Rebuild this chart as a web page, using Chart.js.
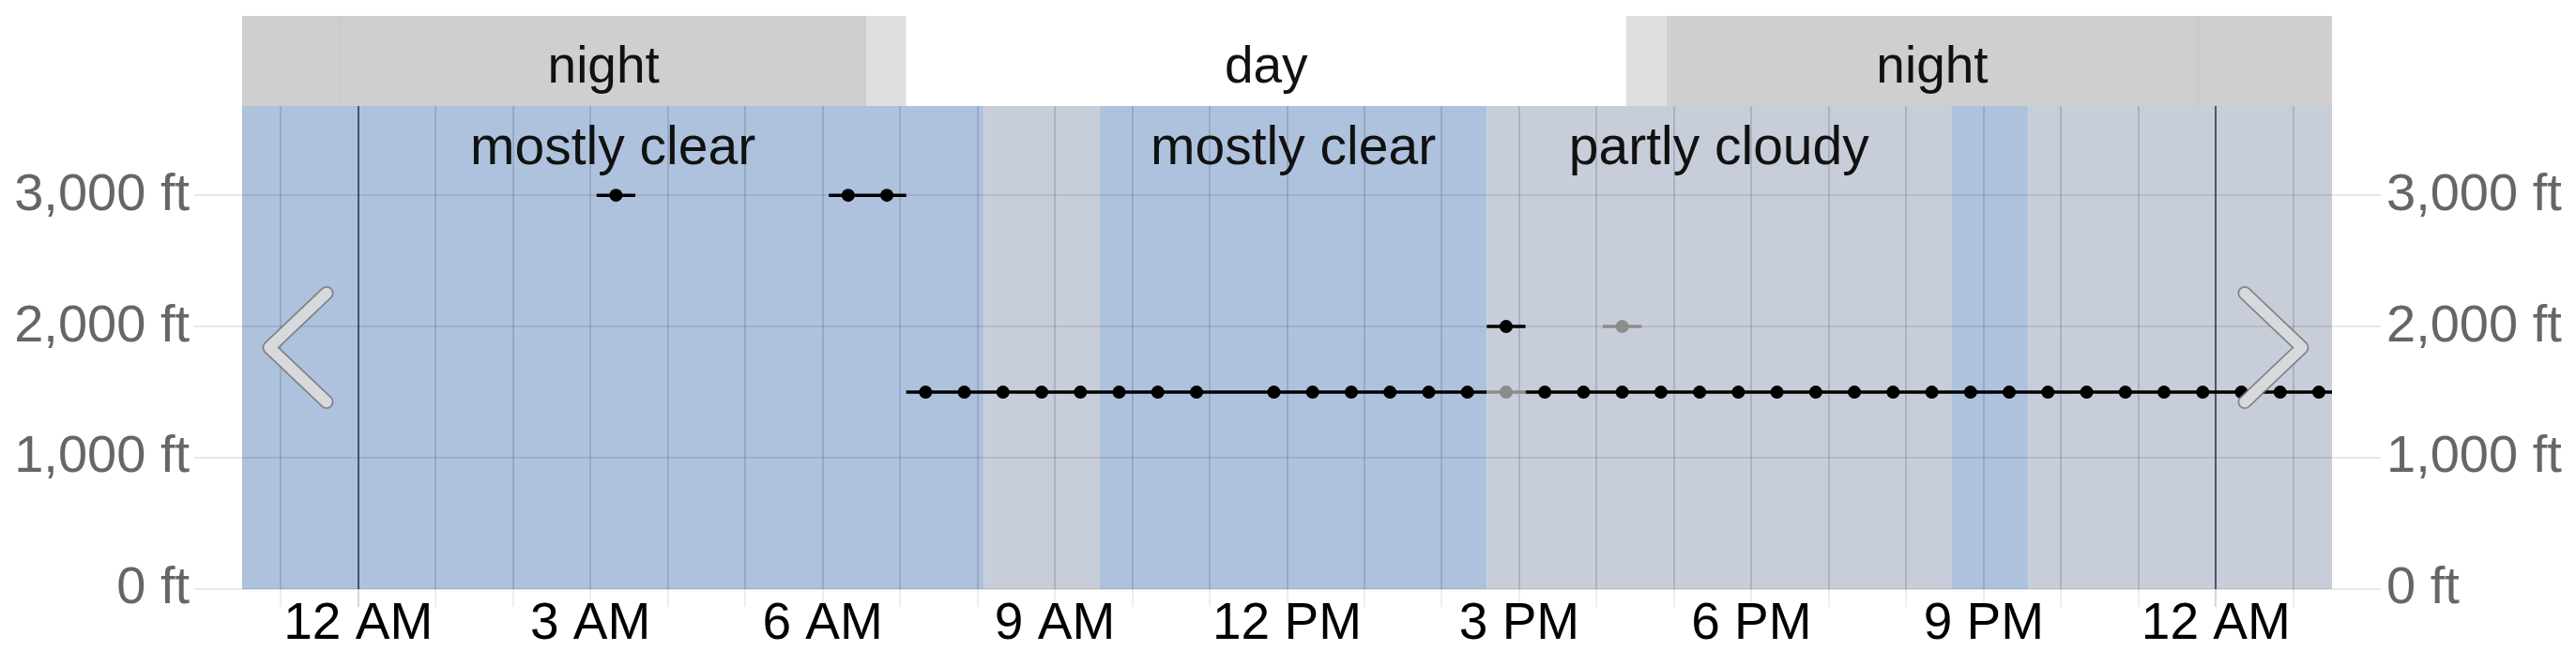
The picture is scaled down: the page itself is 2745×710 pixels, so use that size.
<!DOCTYPE html>
<html>
<head>
<meta charset="utf-8">
<script src="https://cdn.jsdelivr.net/npm/chart.js@4.4.0/dist/chart.umd.min.js"></script>
<style>
  body { margin: 0; background: #fff; }
</style>
</head>
<body>
<canvas id="plot" width="2745" height="710"></canvas>
<script>
// hours counted from local midnight of day 1
const obsHours = [3.33, 6.33, 6.83, 7.33, 7.83, 8.33, 8.83, 9.33, 9.83, 10.33, 10.83, 11.33,
  11.83, 12.33, 12.83, 13.33, 13.83, 14.33, 14.83, 15.33, 15.83, 16.33, 16.83, 17.33, 17.83,
  18.33, 18.83, 19.33, 19.83, 20.33, 20.83, 21.33, 21.83, 22.33, 22.83, 23.33, 23.83, 24.33,
  24.83, 25.33];
const ceilingFt = [3000, 3000, 3000, 1500, 1500, 1500, 1500, 1500, 1500, 1500, 1500, 1500,
  1500, 1500, 1500, 1500, 1500, 1500, 2000, 1500, 1500, 1500, 1500, 1500, 1500,
  1500, 1500, 1500, 1500, 1500, 1500, 1500, 1500, 1500, 1500, 1500, 1500, 1500,
  1500, 1500];
// 11:20 has no dot, only the line
const hasDot = obsHours.map(h => h !== 11.33);

const layer2Hours = [14.83, 16.33];
const layer2Ft = [1500, 2000];

const coverStart = [-1.5, 8.08, 9.58, 14.58, 20.58, 21.58];
const coverEnd = [8.08, 9.58, 14.58, 20.58, 21.58, 25.5];
const coverKind = ['clear', 'partly', 'clear', 'partly', 'clear', 'partly'];
const coverLabel = ['mostly clear', '', 'mostly clear', 'partly cloudy', '', ''];

const sunStart = [-1.5, -0.23, 6.57, 7.08, 16.38, 16.9, 23.77];
const sunEnd = [-0.23, 6.57, 7.08, 16.38, 16.9, 23.77, 25.5];
const sunKind = ['night', 'night', 'twilight', 'day', 'twilight', 'night', 'night'];
const sunLabel = ['', 'night', '', 'day', '', 'night', ''];

const tickHours = [0, 3, 6, 9, 12, 15, 18, 21, 24];
const tickLabels = ['12 AM', '3 AM', '6 AM', '9 AM', '12 PM', '3 PM', '6 PM', '9 PM', '12 AM'];
const yTicks = [0, 1000, 2000, 3000];
const yLabels = ['0 ft', '1,000 ft', '2,000 ft', '3,000 ft'];

const coverColor = { clear: '#aec2dd', partly: '#c8ced9' };
const sunColor = { night: '#cfcfcf', twilight: '#dfdfdf', day: '#ffffff' };
const FONT = '"Liberation Sans", Arial, sans-serif';

// each reading covers +-15 min, same-height neighbours join up
function segments(hours, values) {
  const pts = [];
  hours.forEach((h, i) => {
    if (i > 0 && (values[i] !== values[i - 1] || h - hours[i - 1] > 0.6)) pts.push({x: h - 0.25, y: null});
    pts.push({x: h - 0.25, y: values[i]});
    pts.push({x: h + 0.25, y: values[i]});
  });
  return pts;
}

const backdrop = {
  id: 'backdrop',
  beforeDraw(chart) {
    const {ctx, chartArea: a, scales: {x}} = chart;
    const px = v => Math.min(a.right, Math.max(a.left, x.getPixelForValue(v)));
    const bandTop = a.top - 96;
    ctx.save();
    sunStart.forEach((s, i) => {
      const x0 = px(s), x1 = px(sunEnd[i]);
      ctx.fillStyle = sunColor[sunKind[i]];
      ctx.fillRect(x0, bandTop, x1 - x0, a.top - bandTop);
      if (i > 0 && sunKind[i] === sunKind[i - 1]) {
        ctx.fillStyle = 'rgba(0,0,0,0.05)';
        ctx.fillRect(x0 - 1, bandTop, 2, a.top - bandTop);
      }
    });
    ctx.fillStyle = '#111';
    ctx.font = '55px ' + FONT;
    ctx.textAlign = 'center';
    ctx.textBaseline = 'alphabetic';
    sunStart.forEach((s, i) => {
      if (sunLabel[i]) ctx.fillText(sunLabel[i], (px(s) + px(sunEnd[i])) / 2, a.top - 25);
    });
    coverStart.forEach((s, i) => {
      const x0 = px(s), x1 = px(coverEnd[i]);
      ctx.fillStyle = coverColor[coverKind[i]];
      ctx.fillRect(x0, a.top, x1 - x0, a.bottom - a.top);
    });
    ctx.restore();
  },
  beforeDatasetsDraw(chart) {
    const {ctx, chartArea: a, scales: {x}} = chart;
    ctx.save();
    ctx.fillStyle = '#111';
    ctx.font = '57px ' + FONT;
    ctx.textAlign = 'center';
    coverStart.forEach((s, i) => {
      if (!coverLabel[i]) return;
      const mid = (x.getPixelForValue(s) + x.getPixelForValue(coverEnd[i])) / 2;
      ctx.fillText(coverLabel[i], mid, a.top + 62);
    });
    ctx.restore();
  },
  afterDraw(chart) {
    const {ctx, chartArea: a} = chart;
    const cy = (a.top + a.bottom) / 2;
    const arrow = (tip, tail) => {
      ctx.beginPath();
      ctx.moveTo(tail, cy - 58);
      ctx.lineTo(tip, cy);
      ctx.lineTo(tail, cy + 58);
      ctx.lineWidth = 15;
      ctx.strokeStyle = 'rgba(120,120,120,0.85)';
      ctx.stroke();
      ctx.lineWidth = 11.5;
      ctx.strokeStyle = '#d8d9dc';
      ctx.stroke();
    };
    ctx.save();
    ctx.lineCap = 'round';
    ctx.lineJoin = 'round';
    arrow(a.left + 29, a.left + 90);
    arrow(a.right - 32, a.right - 93);
    ctx.restore();
  }
};

const data = {
  datasets: [
    {
      label: 'layer 2 line',
      data: segments(layer2Hours, layer2Ft),
      showLine: true,
      borderColor: '#8c8c8c',
      borderWidth: 3.5,
      pointRadius: 0,
      spanGaps: false
    },
    {
      label: 'layer 2',
      data: layer2Hours.map((h, i) => ({x: h, y: layer2Ft[i]})),
      backgroundColor: '#8c8c8c',
      borderWidth: 0,
      pointRadius: 7
    },
    {
      label: 'ceiling line',
      data: segments(obsHours, ceilingFt),
      showLine: true,
      borderColor: '#000',
      borderWidth: 3.5,
      pointRadius: 0,
      spanGaps: false
    },
    {
      label: 'ceiling',
      data: obsHours.map((h, i) => ({x: h, y: ceilingFt[i]})).filter((p, i) => hasDot[i]),
      backgroundColor: '#000',
      borderWidth: 0,
      pointRadius: 7
    }
  ]
};

const yAxis = (pos, width, tl, pad) => ({
  position: pos,
  min: 0,
  max: 3680,
  afterBuildTicks: s => { s.ticks = yTicks.map(v => ({value: v})); },
  afterFit: s => { s.width = width; },
  border: {display: false},
  grid: {
    color: 'rgba(0,0,0,0.09)',
    lineWidth: 2,
    tickLength: tl,
    drawOnChartArea: pos === 'left'
  },
  ticks: {
    callback: v => yLabels[yTicks.indexOf(v)],
    color: '#666',
    padding: pad,
    font: {family: FONT, size: 56}
  }
});

const config = {
  type: 'scatter',
  data: data,
  plugins: [backdrop],
  options: {
    responsive: false,
    devicePixelRatio: 1,
    animation: false,
    layout: {padding: {top: 113, left: 0, right: 0, bottom: 0}},
    plugins: {legend: {display: false}, tooltip: {enabled: false}},
    scales: {
      x: {
        type: 'linear',
        min: -1.5,
        max: 25.5,
        afterBuildTicks: s => {
          const t = [];
          for (let h = -1; h <= 25; h++) t.push({value: h});
          s.ticks = t;
        },
        afterFit: s => { s.height = 82; },
        border: {display: false},
        grid: {
          color: c => (c.tick && c.tick.value % 24 === 0) ? 'rgba(35,45,65,0.75)' : 'rgba(70,85,110,0.22)',
          tickColor: c => (c.tick && c.tick.value % 24 === 0) ? 'rgba(0,0,0,0.16)' : 'rgba(0,0,0,0.07)',
          lineWidth: 2,
          tickLength: 19
        },
        ticks: {
          callback: v => { const i = tickHours.indexOf(v); return i < 0 ? '' : tickLabels[i]; },
          color: '#000',
          maxRotation: 0,
          autoSkip: false,
          padding: 0,
          font: {family: FONT, size: 55, lineHeight: 0.7}
        }
      },
      y: yAxis('left', 258, 51, 5),
      y2: yAxis('right', 260, 52, 6)
    }
  }
};

let ctx = document.getElementById('plot').getContext('2d');
let chart = new Chart(ctx, config);
</script>
</body>
</html>
